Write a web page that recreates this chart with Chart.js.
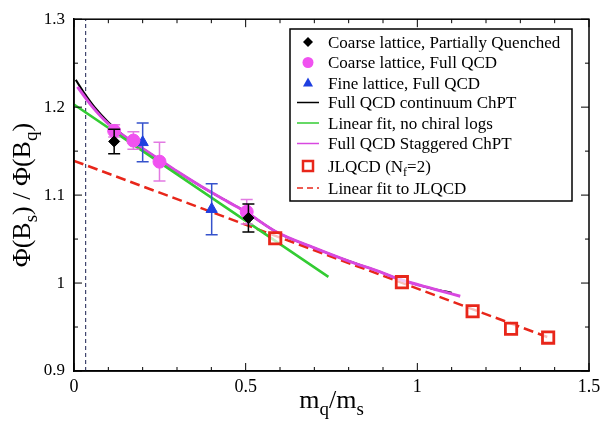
<!DOCTYPE html>
<html>
<head>
<meta charset="utf-8">
<script src="https://cdn.jsdelivr.net/npm/chart.js@4.4.0/dist/chart.umd.min.js"></script>
<style>
  html, body { margin: 0; padding: 0; background: #fff; }
</style>
</head>
<body>
<canvas id="chart" width="607" height="426"></canvas>
<script>
// Coarse lattice, partially quenched (black diamonds)
const pqX = [0.117, 0.508];
const pqY = [1.161, 1.074];
const pqErr = [0.014, 0.016];

// Coarse lattice, full QCD (magenta circles)
const coarseX = [0.117, 0.173, 0.249, 0.503];
const coarseY = [1.173, 1.162, 1.138, 1.081];
const coarseErr = [0.007, 0.010, 0.022, 0.014];

// Fine lattice, full QCD (blue triangles)
const fineX = [0.200, 0.401];
const fineY = [1.160, 1.084];
const fineErr = [0.022, 0.029];

// JLQCD (Nf=2) open squares
const jlX = [0.586, 0.955, 1.161, 1.273, 1.381];
const jlY = [1.051, 1.001, 0.968, 0.948, 0.938];

// Full QCD continuum ChPT (black curve, mostly under the magenta one)
const contX = [0.005, 0.03, 0.06, 0.10, 0.15, 0.20, 0.25, 0.30, 0.37, 0.45, 0.50, 0.59, 0.70, 0.80, 0.89, 0.95, 1.05, 1.10];
const contY = [1.231, 1.216, 1.200, 1.183, 1.166, 1.153, 1.140, 1.127, 1.110, 1.092, 1.081, 1.058, 1.040, 1.025, 1.013, 1.004, 0.993, 0.989];

// Full QCD staggered ChPT (magenta curve)
const staggX = [0.01, 0.05, 0.10, 0.15, 0.20, 0.25, 0.30, 0.37, 0.45, 0.50, 0.59, 0.70, 0.80, 0.89, 0.95, 1.05, 1.125];
const staggY = [1.223, 1.202, 1.181, 1.166, 1.153, 1.140, 1.127, 1.110, 1.092, 1.081, 1.058, 1.040, 1.025, 1.013, 1.004, 0.993, 0.985];

// Linear fit, no chiral logs (green)
const linX = [0.0, 0.741];
const linY = [1.203, 1.007];

// Linear fit to JLQCD (red dashed)
const jlFitX = [0.0, 1.39];
const jlFitY = [1.139, 0.937];

// vertical dashed marker near the chiral limit
const cutX = [0.034, 0.034];
const cutY = [0.9, 1.3];

// axis ticks
const xTickVals = [0, 0.5, 1, 1.5];
const xTickLabels = ['0', '0.5', '1', '1.5'];
const yTickVals = [0.9, 1.0, 1.1, 1.2, 1.3];
const yTickLabels = ['0.9', '1', '1.1', '1.2', '1.3'];

const legendLabels = [
  'Coarse lattice, Partially Quenched',
  'Coarse lattice, Full QCD',
  'Fine lattice, Full QCD',
  'Full QCD continuum ChPT',
  'Linear fit, no chiral logs',
  'Full QCD Staggered ChPT',
  'JLQCD (N|f|=2)',
  'Linear fit to JLQCD'
];

const SERIF = '"Liberation Serif", "Times New Roman", "DejaVu Serif", serif';
const C = {
  black: '#000000',
  magenta: '#f052f0',
  magentaErr: '#e27ae2',
  magentaLine: '#d848e0',
  blue: '#1e3fe0',
  green: '#33cc33',
  red: '#e8261a'
};

const pts = (xs, ys) => xs.map((x, i) => ({ x: x, y: ys[i] }));

// lower "order" is painted later (on top)
function lineSet(xs, ys, color, width, order, extra) {
  return Object.assign({
    type: 'line', data: pts(xs, ys), borderColor: color, borderWidth: width,
    pointRadius: 0, fill: false, order: order, cubicInterpolationMode: 'monotone'
  }, extra || {});
}

function pointSet(xs, ys, errs, style, radius, fill, stroke, bw, errColor) {
  return {
    type: 'scatter', data: pts(xs, ys), pointStyle: style, pointRadius: radius,
    backgroundColor: fill, borderColor: stroke, borderWidth: bw, order: 0,
    yErr: errs, errColor: errColor
  };
}

// draw a string with "|sub|" parts as subscripts
function drawRich(ctx, str, x, y, size, align) {
  const parts = str.split('|');
  const big = size + 'px ' + SERIF, small = Math.round(size * 0.72) + 'px ' + SERIF;
  let w = 0;
  parts.forEach((p, i) => { ctx.font = i % 2 ? small : big; w += ctx.measureText(p).width; });
  let cx = align === 'center' ? x - w / 2 : x;
  ctx.textAlign = 'left';
  ctx.textBaseline = 'alphabetic';
  parts.forEach((p, i) => {
    ctx.font = i % 2 ? small : big;
    ctx.fillText(p, cx, i % 2 ? y + size * 0.28 : y);
    cx += ctx.measureText(p).width;
  });
}

const errorBars = {
  id: 'errorBars',
  beforeDatasetDraw(chart, args) {
    const ds = chart.data.datasets[args.index];
    if (!ds.yErr) return;
    const { ctx } = chart, y = chart.scales.y;
    ctx.save();
    ctx.strokeStyle = ds.errColor;
    ctx.lineWidth = 1.5;
    args.meta.data.forEach((el, i) => {
      const v = ds.data[i].y, e = ds.yErr[i];
      const top = y.getPixelForValue(v + e), bot = y.getPixelForValue(v - e);
      ctx.beginPath();
      ctx.moveTo(el.x, top); ctx.lineTo(el.x, bot);
      ctx.moveTo(el.x - 6, top); ctx.lineTo(el.x + 6, top);
      ctx.moveTo(el.x - 6, bot); ctx.lineTo(el.x + 6, bot);
      ctx.stroke();
    });
    ctx.restore();
  }
};

const frame = {
  id: 'frame',
  afterDraw(chart) {
    const { ctx, chartArea: a, scales: { x, y } } = chart;
    ctx.save();
    ctx.strokeStyle = '#000';
    ctx.lineWidth = 1.5;
    ctx.strokeRect(a.left, a.top, a.right - a.left, a.bottom - a.top);
    ctx.lineWidth = 1;
    ctx.beginPath();
    for (let i = 0; i <= 15; i++) {
      const px = x.getPixelForValue(i / 10), len = i % 5 === 0 ? 8 : 4;
      ctx.moveTo(px, a.bottom); ctx.lineTo(px, a.bottom - len);
      ctx.moveTo(px, a.top); ctx.lineTo(px, a.top + len);
    }
    for (let i = 0; i <= 8; i++) {
      const py = y.getPixelForValue(0.9 + i * 0.05), len = i % 2 === 0 ? 8 : 4;
      ctx.moveTo(a.left, py); ctx.lineTo(a.left + len, py);
      ctx.moveTo(a.right, py); ctx.lineTo(a.right - len, py);
    }
    ctx.stroke();

    // axis titles
    ctx.fillStyle = '#000';
    drawRich(ctx, 'm|q|/m|s|', (a.left + a.right) / 2, 408, 26, 'center');
    ctx.save();
    ctx.translate(30, (a.top + a.bottom) / 2);
    ctx.rotate(-Math.PI / 2);
    drawRich(ctx, '\u03A6(B|s|) / \u03A6(B|q|)', 0, 0, 26, 'center');
    ctx.restore();

    // legend box
    const bx = 290, by = 29, bw = 282, bh = 172;
    ctx.fillStyle = '#fff';
    ctx.fillRect(bx, by, bw, bh);
    ctx.lineWidth = 1.5;
    ctx.strokeStyle = '#000';
    ctx.strokeRect(bx, by, bw, bh);
    const rows = [42, 62.5, 83, 102.5, 123, 143.5, 166, 188];
    const sx = 308, tx = 328;
    rows.forEach((ry, i) => {
      ctx.save();
      if (i === 0) {
        ctx.fillStyle = C.black;
        ctx.beginPath(); ctx.moveTo(sx, ry - 5); ctx.lineTo(sx + 5, ry); ctx.lineTo(sx, ry + 5); ctx.lineTo(sx - 5, ry); ctx.closePath(); ctx.fill();
      } else if (i === 1) {
        ctx.fillStyle = C.magenta; ctx.beginPath(); ctx.arc(sx, ry, 5.5, 0, Math.PI * 2); ctx.fill();
      } else if (i === 2) {
        ctx.fillStyle = C.blue;
        ctx.beginPath(); ctx.moveTo(sx, ry - 5.5); ctx.lineTo(sx + 5, ry + 3.5); ctx.lineTo(sx - 5, ry + 3.5); ctx.closePath(); ctx.fill();
      } else if (i === 6) {
        ctx.strokeStyle = C.red; ctx.lineWidth = 2.5; ctx.strokeRect(sx - 5, ry - 5, 10, 10);
      } else {
        const col = [null, null, null, C.black, C.green, C.magentaLine, null, C.red][i];
        ctx.strokeStyle = col; ctx.lineWidth = 1.5;
        if (i === 7) ctx.setLineDash([6, 4]);
        ctx.beginPath(); ctx.moveTo(297, ry); ctx.lineTo(319, ry); ctx.stroke();
      }
      ctx.restore();
      ctx.fillStyle = '#000';
      drawRich(ctx, legendLabels[i], tx, ry + 5.5, 17, 'left');
    });
    ctx.restore();
  }
};

function draw() {
  new Chart(document.getElementById('chart'), {
    type: 'scatter',
    data: {
      datasets: [
        lineSet(cutX, cutY, '#1a2050', 1, 7, { borderDash: [4, 3], cubicInterpolationMode: 'default' }),
        lineSet(jlFitX, jlFitY, C.red, 2.5, 6, { borderDash: [10, 5] }),
        lineSet(contX, contY, C.black, 2, 5),
        lineSet(staggX, staggY, C.magentaLine, 3, 4),
        lineSet(linX, linY, C.green, 2.5, 3),
        pointSet(jlX, jlY, null, 'rect', 8, 'rgba(255,255,255,0.7)', C.red, 2.8, null),
        pointSet(pqX, pqY, pqErr, 'rectRot', 5.5, C.black, C.black, 1, C.black),
        pointSet(coarseX, coarseY, coarseErr, 'circle', 6.5, C.magenta, C.magenta, 1, C.magentaErr),
        pointSet(fineX, fineY, fineErr, 'triangle', 6.5, C.blue, C.blue, 1, '#3552cc')
      ]
    },
    options: {
      responsive: false,
      animation: false,
      layout: { padding: { left: 0, right: 18, top: 13, bottom: 0 } },
      plugins: { legend: { display: false }, tooltip: { enabled: false } },
      scales: {
        x: {
          type: 'linear', min: 0, max: 1.5,
          grid: { display: false, drawTicks: false },
          border: { display: true, color: '#000', width: 1.5 },
          afterBuildTicks: s => { s.ticks = xTickVals.map(v => ({ value: v })); },
          afterFit: s => { s.height = 55; },
          ticks: {
            color: '#000', padding: 5, maxRotation: 0,
            font: { family: SERIF, size: 18 },
            callback: (v, i) => xTickLabels[i]
          }
        },
        y: {
          type: 'linear', min: 0.9, max: 1.3,
          grid: { display: false, drawTicks: false },
          border: { display: true, color: '#000', width: 1.5 },
          afterBuildTicks: s => { s.ticks = yTickVals.map(v => ({ value: v })); },
          afterFit: s => { s.width = 74; },
          ticks: {
            color: '#000', padding: 9,
            font: { family: SERIF, size: 17 },
            callback: (v, i) => yTickLabels[i]
          }
        }
      }
    },
    plugins: [errorBars, frame]
  });
}

Promise.all([
  document.fonts.load('17px "Liberation Serif"'),
  document.fonts.load('26px "Liberation Serif"')
]).then(draw, draw);
</script>
</body>
</html>
